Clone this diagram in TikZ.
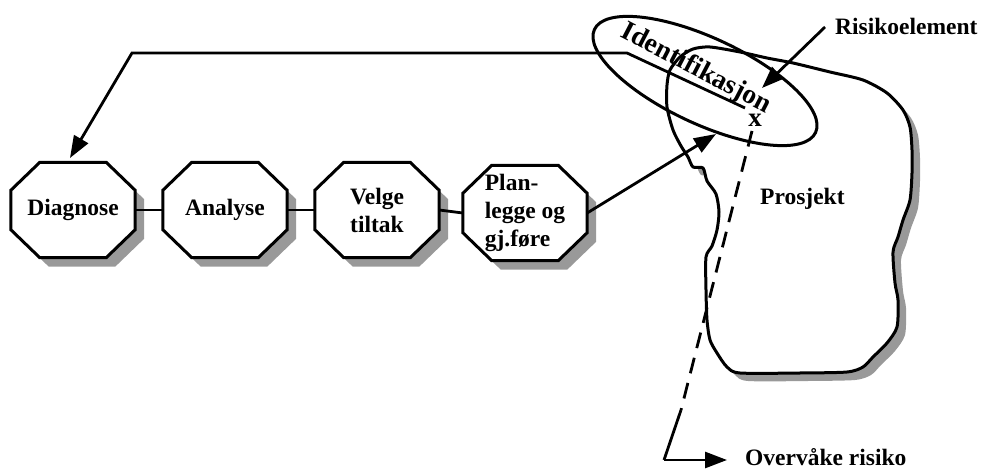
\documentclass[tikz,border=0pt]{standalone}
\usepackage{fontspec}
\setmainfont{Liberation Serif}
\usetikzlibrary{shapes.geometric,arrows.meta,calc,backgrounds}
% octagon around a rectangular node #1, shifted by (#2,#3)
\newcommand\octpath[3]{%
  ($(#1.north west)+(29+#2,#3)$) -- ($(#1.north east)+(-29+#2,#3)$) --
  ($(#1.north east)+(#2,28+#3)$) -- ($(#1.south east)+(#2,-28+#3)$) --
  ($(#1.south east)+(-29+#2,#3)$) -- ($(#1.south west)+(29+#2,#3)$) --
  ($(#1.south west)+(#2,-28+#3)$) -- ($(#1.north west)+(#2,28+#3)$) -- cycle}
\newcommand\octframe[1]{%
  \fill[black!40] \octpath{#1}{9}{9};
  \draw[line width=3pt, fill=white] \octpath{#1}{0}{0};}
\begin{document}
\begin{tikzpicture}[x=1pt,y=-1pt,
  bold/.style={font=\fontsize{23.5}{28}\selectfont\bfseries},
  stepbox/.style={rectangle, minimum width=124pt, minimum height=95pt,
    inner sep=0pt, bold, align=center},
  link/.style={line width=2.8pt},
  head/.style={-{Triangle[length=22pt,width=16pt]}},
  lbl/.style={bold, inner sep=0pt},
  prosjektshape/.style={insert path={plot[smooth cycle, tension=0.45] coordinates {
    (667,85) (670,70) (680,57) (693,49) (710,47) (740,52) (767,58) (793,63)
    (830,72) (863,80) (887,93) (903,110) (910,127) (912,150) (912,173) (910,200)
    (903,220) (898,237) (893,252) (895,283) (898,300) (897,327) (887,343)
    (873,357) (863,367) (847,372) (800,373) (740,373) (727,367) (717,353)
    (710,340) (707,320) (706,290) (706,257) (712,246) (717,230) (719,212)
    (716,194) (707,181) (703,168) (693,167) (688,157) (681,146) (673,130)
    (667,107)}}},
]
\useasboundingbox (0,0) rectangle (983,470);

% project area with its shadow
\fill[black!40, shift={(8,8)}, prosjektshape];
\draw[line width=3pt, fill=white, line join=round, prosjektshape];
\node[lbl, anchor=base west] (prosjekt) at (760,205) {Prosjekt};

% process steps
\node[stepbox] (diag) at (73,210) {Diagnose};
\node[stepbox] (ana)  at (225,210) {Analyse};
\node[stepbox] (velg) at (377,210) {Velge\\tiltak};
\node[stepbox, align=left] (plan) at (525,213) {Plan-\\legge og\\gj.føre};
\begin{scope}[on background layer]
  \octframe{diag}
  \octframe{ana}
  \octframe{velg}
  \octframe{plan}
\end{scope}

\draw[link] (diag.east) -- (ana.west);
\draw[link] (ana.east) -- (velg.west);
\draw[link] (velg.east) -- (plan.west);

% identification ellipse
\node[draw, ellipse, line width=3pt, minimum width=244pt, minimum height=86pt,
      inner sep=0pt, rotate=-25] (ident) at (705,81) {};
\node[rotate=-27.5, anchor=base, inner sep=0pt,
      font=\fontsize{27.5}{30}\selectfont\bfseries] (idtext) at (693,75) {Identifikasjon};

% risk element
\node[font=\fontsize{27}{30}\selectfont\bfseries, inner sep=1pt] (xmark) at (755,120) {x};
\node[lbl, anchor=base west, inner xsep=10pt] (risk) at (825,35) {Risikoelement};
\coordinate (rtip) at (762,88);
\draw[link, head] (risk.base west) ++(0,-8) -- (rtip);

% plan feeds identification
\coordinate (ptip) at (716,134);
\draw[link, head] (plan.east) -- (ptip);

% feedback to diagnosis
\coordinate (fb1) at (745,108);
\coordinate (fb2) at (627,53);
\coordinate (fb3) at (132,53);
\coordinate (dtip) at (70,158);
\draw[link, head, line join=miter] (fb1) -- (fb2) -- (fb3) -- (dtip);

% monitoring
\coordinate (m1) at (681,410);
\coordinate (m2) at (664,460);
\node[lbl, anchor=base west, inner xsep=18pt] (ov) at (727,465) {Overvåke risiko};
\draw[link, dash pattern=on 16pt off 10pt] (752,131) -- (m1);
\draw[link] (m1) -- (m2);
\draw[link, head] (m2) -- (ov.west |- m2);
\end{tikzpicture}
\end{document}
